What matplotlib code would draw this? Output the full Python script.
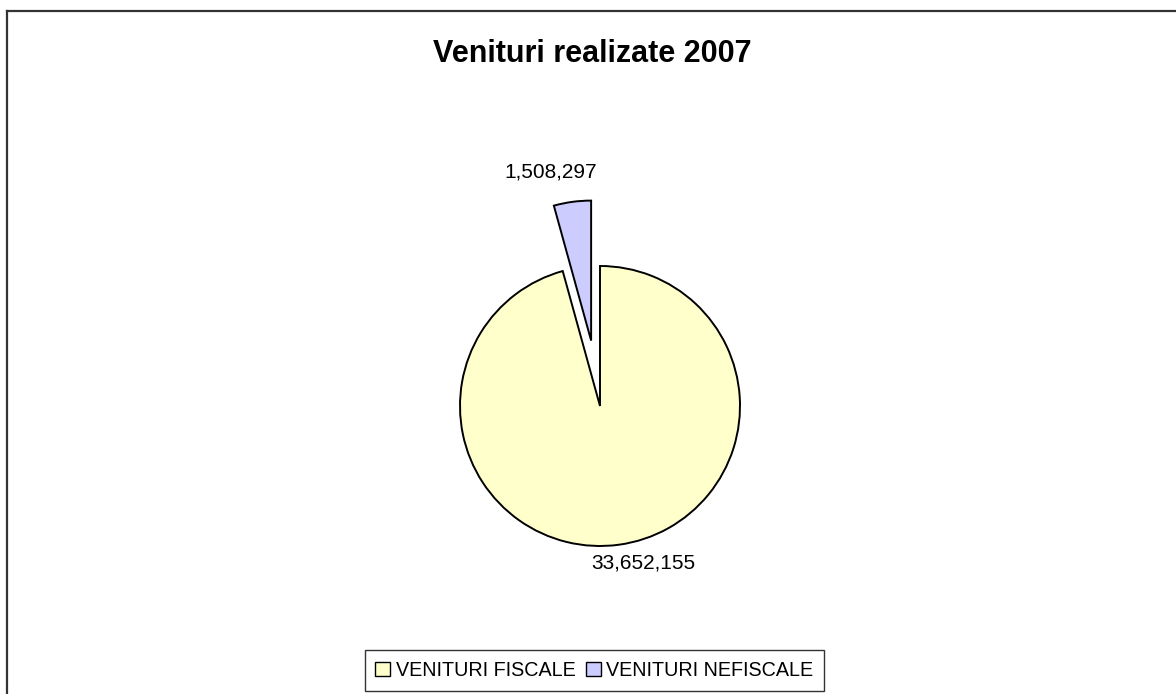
import matplotlib
matplotlib.use("Agg")
import matplotlib.pyplot as plt
from matplotlib.lines import Line2D

plt.rcParams['font.family'] = ['Liberation Sans', 'DejaVu Sans']

# Data
categories = ["VENITURI FISCALE", "VENITURI NEFISCALE"]
values = [33652155, 1508297]
colors = ["#FFFFCC", "#CCCCFF"]
title = "Venituri realizate 2007"

W, H = 1176, 694
fig = plt.figure(figsize=(W / 100, H / 100), dpi=100)
ax = fig.add_axes([0, 0, 1, 1])

# pie in pixel-like data units (y measured upward)
cx, cy, r = 600, H - 406, 140
wedges, _ = ax.pie(values, colors=colors, startangle=90, counterclock=False,
                   center=(cx, cy), radius=r, explode=[0, 66],
                   wedgeprops=dict(edgecolor="black", linewidth=1.4))
ax.set_xlim(0, W)
ax.set_ylim(0, H)
ax.set_aspect("equal")
ax.axis("off")

# value labels
ax.text(551, H - 172, f"{values[1]:,}", ha="center", va="center", fontsize=15)
ax.text(643, H - 563, f"{values[0]:,}", ha="center", va="center", fontsize=15)

# title
fig.text(592 / W, 1 - 54 / H, title, ha="center", va="center",
         fontsize=22, fontweight="bold")

# legend
leg = fig.legend(wedges, categories, loc="center",
                 bbox_to_anchor=(594.5 / W, 1 - 670.5 / H), ncol=2,
                 fontsize=14.2, frameon=True, fancybox=False, shadow=False,
                 handlelength=0.75, handleheight=0.75, handletextpad=0.3,
                 columnspacing=0.5, borderpad=0.55, borderaxespad=0)
leg.get_frame().set_edgecolor("black")
leg.get_frame().set_linewidth(1.0)
for h in leg.legend_handles:
    h.set_edgecolor("black")
    h.set_linewidth(1.0)

# outer chart frame
fig.add_artist(Line2D([7 / W, 1], [1 - 11 / H, 1 - 11 / H], color="#333333",
                      linewidth=1.6, transform=fig.transFigure))
fig.add_artist(Line2D([7 / W, 7 / W], [1 - 11 / H, 0], color="#333333",
                      linewidth=1.6, transform=fig.transFigure))

fig.savefig("out.png", dpi=100)
